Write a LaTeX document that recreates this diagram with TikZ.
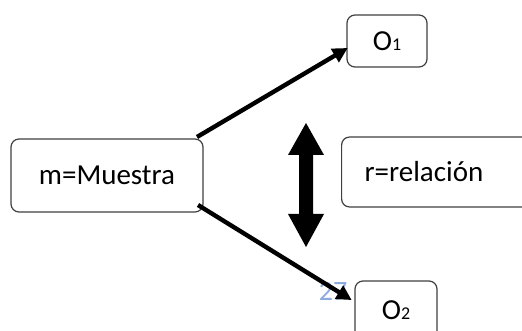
\documentclass[tikz,border=0pt]{standalone}
\usepackage{fontspec}
\setmainfont{Carlito}
\usetikzlibrary{arrows.meta}
\definecolor{pgblue}{RGB}{140,170,222}
\begin{document}
\begin{tikzpicture}[x=1pt,y=-1pt,
  box/.style={draw=black!75, line width=1.2pt, rounded corners=8pt, fill=white, inner sep=0pt, font=\fontsize{29}{33}\selectfont},
  link/.style={line width=4.4pt, -{Triangle[length=15pt,width=15pt]}, shorten >=-2pt}]
\useasboundingbox (0,0) rectangle (522,331);
\node[text=pgblue, font=\fontsize{28}{32}\selectfont] (pg) at (333,291) {27};
\node[box, minimum width=192pt, minimum height=73pt] (m) at (107,175.5) {m=Muestra};
\node[box, minimum width=80pt, minimum height=52pt] (o1) at (387,41) {O\raisebox{-0.5pt}{\fontsize{18}{20}\selectfont 1}};
\node[box, minimum width=82pt, minimum height=58pt] (o2) at (396,310) {O\raisebox{-0.5pt}{\fontsize{18}{20}\selectfont 2}};
\node[box, anchor=west, minimum height=70pt, text width=190pt, align=left, inner xsep=23pt] (r) at (341,172) {r=relación};
\coordinate (a1) at (197,137);
\coordinate (b1) at (346,49);
\coordinate (a2) at (198,205);
\coordinate (b2) at (350,299);
\draw[link] (a1) -- (b1);
\draw[link] (a2) -- (b2);
\fill (306,123) -- (324,155) -- (313,155) -- (313,214) -- (324,214) -- (306,247) -- (288,214) -- (299,214) -- (299,155) -- (288,155) -- cycle;
\end{tikzpicture}
\end{document}
